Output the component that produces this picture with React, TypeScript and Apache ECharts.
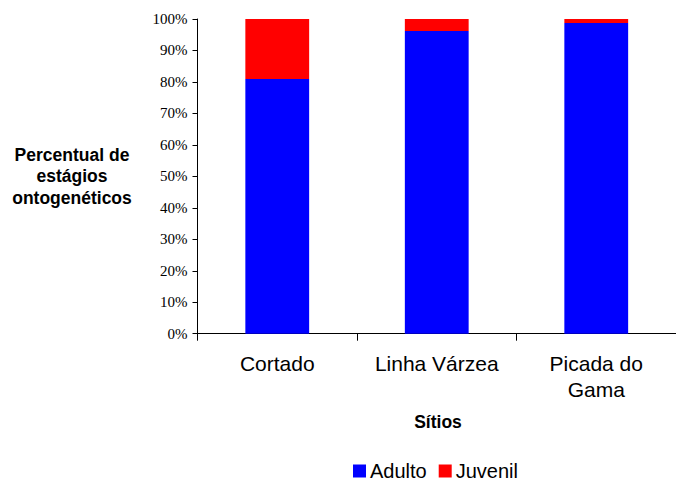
import React, { useEffect, useRef } from "react";
import * as echarts from "echarts";

// Sites sampled and the share of each ontogenetic stage (%)
const sites = ["Cortado", "Linha Várzea", "Picada do\nGama"];
const adulto = [80.9, 96.2, 98.7];
const juvenil = [19.1, 3.8, 1.3];
const yTicks = [0, 10, 20, 30, 40, 50, 60, 70, 80, 90, 100];

const SANS = "'Liberation Sans', Arial, sans-serif";
const SERIF = "'Liberation Serif', 'Times New Roman', serif";

export default function App() {
  const ref = useRef<HTMLDivElement>(null);

  useEffect(() => {
    if (!ref.current) return;
    const chart = echarts.init(ref.current, null, { renderer: "svg" });
    chart.setOption({
      animation: false,
      backgroundColor: "#ffffff",
      grid: { left: 197.5, right: -1.5, top: 19, bottom: 145.3, containLabel: false },
      legend: {
        data: ["Adulto", "Juvenil"],
        left: 348,
        top: 461,
        padding: [0, 5, 0, 5],
        itemWidth: 13,
        itemHeight: 13,
        itemGap: 12,
        icon: "rect",
        textStyle: {
          fontFamily: SANS,
          fontSize: 20,
          lineHeight: 18,
          color: "#000",
          padding: [0, 0, 0, -1],
        },
      },
      xAxis: {
        type: "category",
        data: sites,
        axisLine: { lineStyle: { color: "#000", width: 1 } },
        axisTick: { show: true, length: 7, lineStyle: { color: "#000" }, alignWithLabel: false },
        axisLabel: {
          fontFamily: SANS,
          fontSize: 21,
          color: "#000",
          lineHeight: 26,
          margin: 17,
          interval: 0,
        },
      },
      yAxis: {
        type: "value",
        min: yTicks[0],
        max: yTicks[yTicks.length - 1],
        interval: 10,
        splitLine: { show: false },
        axisLine: { show: true, lineStyle: { color: "#000", width: 1 } },
        axisTick: { show: true, length: 5, lineStyle: { color: "#000" } },
        axisLabel: {
          fontFamily: SERIF,
          fontSize: 15,
          color: "#000",
          margin: 10,
          formatter: (v: number) => `${v}%`,
        },
      },
      graphic: [
        {
          type: "text",
          style: {
            text: "Percentual de\nestágios\nontogenéticos",
            x: 72,
            y: 176,
            textAlign: "center",
            textVerticalAlign: "middle",
            font: `bold 17.5px ${SANS}`,
            lineHeight: 21.5,
            fill: "#000",
          },
        },
        {
          type: "text",
          style: {
            text: "Sítios",
            x: 438,
            y: 422,
            textAlign: "center",
            textVerticalAlign: "middle",
            font: `bold 17.5px ${SANS}`,
            fill: "#000",
          },
        },
      ],
      series: [
        {
          name: "Adulto",
          type: "bar",
          stack: "estagio",
          data: adulto,
          barWidth: "40%",
          itemStyle: { color: "#0000ff" },
        },
        {
          name: "Juvenil",
          type: "bar",
          stack: "estagio",
          data: juvenil,
          barWidth: "40%",
          itemStyle: { color: "#ff0000" },
        },
      ],
    });
    return () => chart.dispose();
  }, []);

  return (
    <div
      ref={ref}
      style={{ position: "fixed", left: 0, top: 0, width: 676, height: 479 }}
    />
  );
}
